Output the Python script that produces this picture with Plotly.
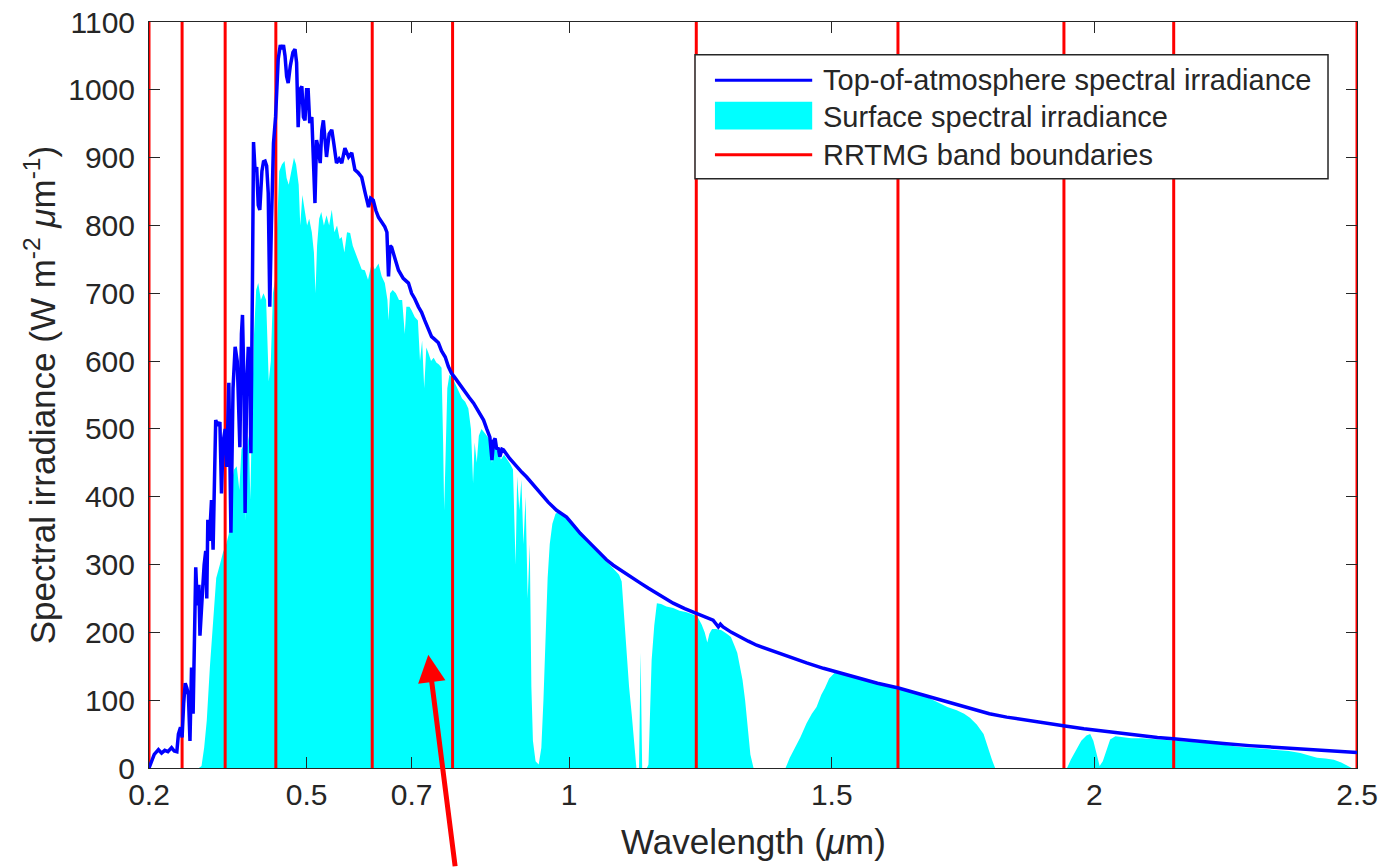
import plotly.graph_objects as go

# Top-of-atmosphere solar spectral irradiance (W m-2 um-1) vs wavelength (um)
toa_wavelength = [
    0.200, 0.204, 0.210, 0.218, 0.224, 0.230, 0.236, 0.243, 0.248, 0.253, 0.256, 0.260,
    0.263, 0.266, 0.269, 0.272, 0.275, 0.278, 0.281, 0.284, 0.287, 0.289, 0.292, 0.295,
    0.297, 0.300, 0.302, 0.305, 0.308, 0.310, 0.312, 0.315, 0.319, 0.322, 0.325, 0.327,
    0.331, 0.335, 0.338, 0.341, 0.345, 0.348, 0.352, 0.356, 0.360, 0.364, 0.368, 0.373,
    0.376, 0.378, 0.381, 0.383, 0.386, 0.389, 0.392, 0.394, 0.397, 0.399, 0.402, 0.405,
    0.408, 0.411, 0.415, 0.418, 0.421, 0.424, 0.427, 0.429, 0.430, 0.433, 0.437, 0.441,
    0.446, 0.450, 0.453, 0.456, 0.459, 0.462, 0.465, 0.469, 0.474, 0.478, 0.481, 0.484,
    0.487, 0.491, 0.494, 0.497, 0.500, 0.503, 0.506, 0.510, 0.513, 0.516, 0.519, 0.522,
    0.526, 0.529, 0.532, 0.535, 0.538, 0.543, 0.548, 0.552, 0.557, 0.562, 0.567, 0.573,
    0.577, 0.580, 0.586, 0.592, 0.598, 0.605, 0.611, 0.618, 0.622, 0.627, 0.632, 0.637,
    0.643, 0.649, 0.653, 0.656, 0.659, 0.662, 0.668, 0.675, 0.684, 0.694, 0.700, 0.706,
    0.713, 0.719, 0.725, 0.731, 0.738, 0.744, 0.751, 0.757, 0.764, 0.770, 0.776, 0.782,
    0.789, 0.796, 0.802, 0.810, 0.818, 0.827, 0.837, 0.843, 0.849, 0.853, 0.856, 0.859,
    0.862, 0.865, 0.868, 0.872, 0.875, 0.887, 0.900, 0.910, 0.919, 0.931, 0.944, 0.960,
    0.976, 0.995, 1.008, 1.021, 1.034, 1.046, 1.058, 1.071, 1.084, 1.097, 1.116, 1.135,
    1.151, 1.167, 1.183, 1.198, 1.220, 1.243, 1.260, 1.274, 1.279, 1.284, 1.288, 1.293,
    1.309, 1.325, 1.341, 1.357, 1.382, 1.420, 1.452, 1.484, 1.515, 1.547, 1.587, 1.627,
    1.667, 1.706, 1.738, 1.770, 1.800, 1.833, 1.865, 1.897, 1.944, 1.980, 2.023, 2.055,
    2.087, 2.120, 2.150, 2.200, 2.246, 2.295, 2.341, 2.390, 2.436, 2.470, 2.500,
]
toa_irradiance = [
    0, 8, 20, 27, 22, 26, 24, 30, 25, 24, 50, 60,
    45, 95, 125, 118, 108, 40, 148, 80, 180, 296, 240, 270,
    195, 255, 262, 300, 320, 250, 366, 335, 395, 322, 460, 513,
    505, 510, 405, 480, 500, 444, 568, 347, 560, 621, 600, 473,
    640, 668, 560, 376, 560, 621, 580, 464, 720, 923, 880, 886,
    830, 823, 880, 894, 895, 888, 848, 760, 680, 800, 921, 960,
    1045, 1066, 1060, 1066, 1050, 1020, 1010, 1035, 1055, 1060, 1040, 945,
    1000, 1005, 960, 955, 1000, 1000, 951, 960, 900, 833, 926, 915,
    892, 940, 955, 930, 901, 935, 941, 920, 892, 898, 892, 914,
    905, 901, 907, 882, 878, 871, 850, 827, 840, 837, 822, 812,
    805, 798, 790, 725, 770, 768, 752, 734, 722, 715, 700, 692,
    680, 672, 660, 648, 636, 632, 627, 615, 606, 592, 582, 576,
    568, 560, 553, 546, 538, 525, 513, 500, 488, 454, 482, 486,
    470, 472, 459, 470, 469, 456, 444, 436, 429, 418, 405, 392,
    380, 370, 358, 346, 336, 326, 316, 307, 299, 292, 282, 273,
    265, 258, 250, 243, 235, 228, 222, 218, 213, 208, 212, 208,
    200, 193, 187, 181, 174, 163, 155, 147, 140, 133, 125, 118,
    109, 100, 93, 86, 80, 75, 71, 67, 62, 58, 54, 50,
    47, 45, 43, 39, 36, 33, 31, 29, 27, 25, 23,
]

# Surface spectral irradiance (upper envelope of the absorbed spectrum)
sfc_wavelength = [
    0.295, 0.300, 0.305, 0.310, 0.316, 0.322, 0.328, 0.335, 0.341, 0.347, 0.352, 0.357,
    0.362, 0.367, 0.372, 0.376, 0.380, 0.383, 0.386, 0.390, 0.393, 0.396, 0.400, 0.404,
    0.408, 0.413, 0.418, 0.423, 0.428, 0.432, 0.436, 0.440, 0.444, 0.448, 0.453, 0.458,
    0.462, 0.466, 0.471, 0.476, 0.480, 0.485, 0.488, 0.492, 0.497, 0.501, 0.505, 0.510,
    0.514, 0.517, 0.520, 0.524, 0.528, 0.533, 0.538, 0.543, 0.548, 0.553, 0.558, 0.563,
    0.567, 0.572, 0.577, 0.583, 0.588, 0.593, 0.599, 0.605, 0.611, 0.617, 0.624, 0.630,
    0.637, 0.643, 0.649, 0.654, 0.656, 0.659, 0.664, 0.670, 0.676, 0.682, 0.687, 0.690,
    0.696, 0.700, 0.706, 0.712, 0.716, 0.720, 0.724, 0.728, 0.732, 0.737, 0.742, 0.747,
    0.752, 0.757, 0.760, 0.762, 0.765, 0.768, 0.772, 0.778, 0.784, 0.790, 0.796, 0.802,
    0.808, 0.813, 0.817, 0.820, 0.824, 0.828, 0.833, 0.838, 0.843, 0.848, 0.853, 0.858,
    0.864, 0.870, 0.876, 0.882, 0.888, 0.893, 0.898, 0.901, 0.905, 0.909, 0.913, 0.917,
    0.921, 0.925, 0.928, 0.931, 0.936, 0.942, 0.947, 0.951, 0.955, 0.959, 0.963, 0.968,
    0.974, 0.980, 0.985, 0.995, 1.010, 1.021, 1.035, 1.046, 1.058, 1.071, 1.084, 1.095,
    1.100, 1.104, 1.109, 1.114, 1.119, 1.124, 1.128, 1.133, 1.136, 1.139, 1.148, 1.151,
    1.157, 1.162, 1.167, 1.175, 1.185, 1.198, 1.210, 1.222, 1.237, 1.245, 1.252, 1.258,
    1.263, 1.267, 1.272, 1.280, 1.290, 1.300, 1.308, 1.315, 1.320, 1.325, 1.330, 1.335,
    1.340, 1.345, 1.351, 1.412, 1.420, 1.430, 1.440, 1.452, 1.462, 1.471, 1.480, 1.487,
    1.495, 1.505, 1.520, 1.540, 1.560, 1.580, 1.600, 1.627, 1.650, 1.680, 1.706, 1.720,
    1.738, 1.752, 1.763, 1.776, 1.789, 1.797, 1.805, 1.811, 1.948, 1.955, 1.966, 1.975,
    1.985, 1.992, 1.998, 2.004, 2.010, 2.016, 2.022, 2.030, 2.040, 2.055, 2.070, 2.090,
    2.110, 2.130, 2.150, 2.180, 2.214, 2.250, 2.277, 2.310, 2.341, 2.370, 2.392, 2.410,
    2.424, 2.440, 2.456, 2.470, 2.481, 2.490, 2.500,
]
sfc_irradiance = [
    0, 3, 30, 70, 150, 215, 280, 300, 318, 330, 345, 420,
    440, 445, 410, 470, 475, 365, 470, 490, 395, 520, 640, 705,
    715, 690, 700, 690, 570, 600, 700, 720, 800, 880, 890, 895,
    870, 860, 880, 900, 890, 860, 800, 845, 820, 800, 810, 790,
    760, 700, 770, 810, 820, 800, 815, 800, 823, 790, 800, 780,
    783, 760, 790, 789, 770, 760, 749, 735, 734, 720, 744, 735,
    744, 725, 715, 690, 660, 700, 705, 700, 690, 690, 640, 680,
    680, 675, 665, 660, 600, 630, 560, 620, 612, 600, 605, 598,
    595, 590, 480, 380, 470, 560, 580, 575, 565, 555, 545, 540,
    530, 500, 420, 480, 450, 490, 500, 495, 490, 485, 450, 478,
    470, 455, 462, 455, 448, 440, 300, 430, 380, 425, 330, 400,
    250, 330, 120, 40, 10, 5, 30, 100, 200, 280, 330, 360,
    375, 378, 375, 368, 355, 345, 333, 324, 315, 304, 294, 285,
    275, 230, 180, 120, 80, 30, 0, 0, 170, 0, 0, 5,
    159, 210, 243, 242, 238, 236, 232, 230, 226, 222, 212, 200,
    185, 198, 205, 205, 203, 198, 193, 180, 170, 150, 130, 100,
    55, 20, 0, 0, 15, 30, 45, 66, 80, 90, 108, 118,
    132, 140, 140, 135, 131, 127, 122, 117, 112, 105, 95, 90,
    85, 80, 74, 64, 50, 30, 12, 0, 0, 12, 28, 40,
    48, 50, 40, 20, 3, 10, 25, 42, 47, 46, 44, 44,
    43, 42, 41, 39, 37, 34, 31, 29, 27, 25, 22, 18,
    15, 14, 12, 8, 3, 0, 0,
]

# RRTMG shortwave band boundaries (um)
band_edges = [0.2, 0.263, 0.345, 0.4415, 0.625, 0.778, 1.242, 1.626, 1.942, 2.151, 2.5]

x_ticks = [0.2, 0.5, 0.7, 1, 1.5, 2, 2.5]
x_tick_labels = ["0.2", "0.5", "0.7", "1", "1.5", "2", "2.5"]
y_range = [0, 1100]

FONT = "Liberation Sans, Arial, Helvetica, sans-serif"
TXT = "#262626"

fig = go.Figure()

fig.add_trace(go.Scatter(
    x=sfc_wavelength, y=sfc_irradiance, mode="lines",
    line=dict(width=0, color="#00FFFF"), fill="tozeroy", fillcolor="#00FFFF",
    name="Surface spectral irradiance", showlegend=False,
))

edge_x, edge_y = [], []
for b in band_edges:
    edge_x += [b, b, None]
    edge_y += [y_range[0], y_range[1], None]
fig.add_trace(go.Scatter(
    x=edge_x, y=edge_y, mode="lines", line=dict(color="#FF0000", width=3),
    name="RRTMG band boundaries", showlegend=False,
))

fig.add_trace(go.Scatter(
    x=toa_wavelength, y=toa_irradiance, mode="lines",
    line=dict(color="#0000FF", width=3.5),
    name="Top-of-atmosphere spectral irradiance", showlegend=False,
))

axis_common = dict(
    showline=True, linecolor=TXT, linewidth=1, mirror="ticks",
    ticks="inside", ticklen=11, tickcolor=TXT, tickwidth=1,
    showgrid=False, zeroline=False, automargin=False,
    tickfont=dict(family=FONT, size=30, color=TXT),
)

fig.update_xaxes(range=[0.2, 2.5], tickvals=x_ticks, ticktext=x_tick_labels, **axis_common)
fig.update_yaxes(range=y_range, dtick=100, tick0=0, ticklabelstandoff=7, **axis_common)

# Legend box drawn in paper coordinates
lx0, lx1, ly0, ly1 = 0.452, 0.976, 0.790, 0.956
shapes = [
    dict(type="rect", xref="paper", yref="paper", x0=lx0, x1=lx1, y0=ly0, y1=ly1,
         line=dict(color=TXT, width=1.5), fillcolor="white", layer="above"),
    dict(type="line", xref="paper", yref="paper", x0=0.4685, x1=0.549, y0=0.922, y1=0.922,
         line=dict(color="#0000FF", width=3), layer="above"),
    dict(type="rect", xref="paper", yref="paper", x0=0.4685, x1=0.549, y0=0.856, y1=0.893,
         line=dict(width=0), fillcolor="#00FFFF", layer="above"),
    dict(type="line", xref="paper", yref="paper", x0=0.4685, x1=0.549, y0=0.822, y1=0.822,
         line=dict(color="#FF0000", width=3), layer="above"),
]
legend_labels = ["Top-of-atmosphere spectral irradiance", "Surface spectral irradiance",
                 "RRTMG band boundaries"]
legend_rows = [0.922, 0.873, 0.822]
annotations = [
    dict(xref="paper", yref="paper", x=0.556, y=yy, text=t, showarrow=False,
         xanchor="left", yanchor="middle", font=dict(family=FONT, size=29, color=TXT))
    for t, yy in zip(legend_labels, legend_rows)
]

# Axis titles
annotations.append(dict(
    xref="paper", yref="paper", x=0.5, y=-0.098, text="Wavelength (<i>μ</i>m)",
    showarrow=False, xanchor="center", yanchor="middle",
    font=dict(family=FONT, size=35, color=TXT)))
annotations.append(dict(
    xref="paper", yref="paper", x=-0.090, y=0.5,
    text="Spectral irradiance (W m<sup>-2</sup> <i>μ</i>m<sup>-1</sup>)",
    textangle=-90, showarrow=False, xanchor="center", yanchor="middle",
    font=dict(family=FONT, size=35, color=TXT)))

# Pointer arrow into the visible band
annotations.append(dict(
    x=0.7318, y=167, xref="x", yref="y", text="", showarrow=True,
    arrowhead=2, arrowsize=1.1, arrowwidth=5, arrowcolor="#FF0000",
    ax=27, ay=213, standoff=0))

fig.update_layout(
    width=1381, height=868,
    margin=dict(l=149, r=24, t=22, b=100, autoexpand=False),
    paper_bgcolor="white", plot_bgcolor="white",
    showlegend=False, shapes=shapes, annotations=annotations,
    font=dict(family=FONT, color=TXT),
)

fig.write_html("out.html")
